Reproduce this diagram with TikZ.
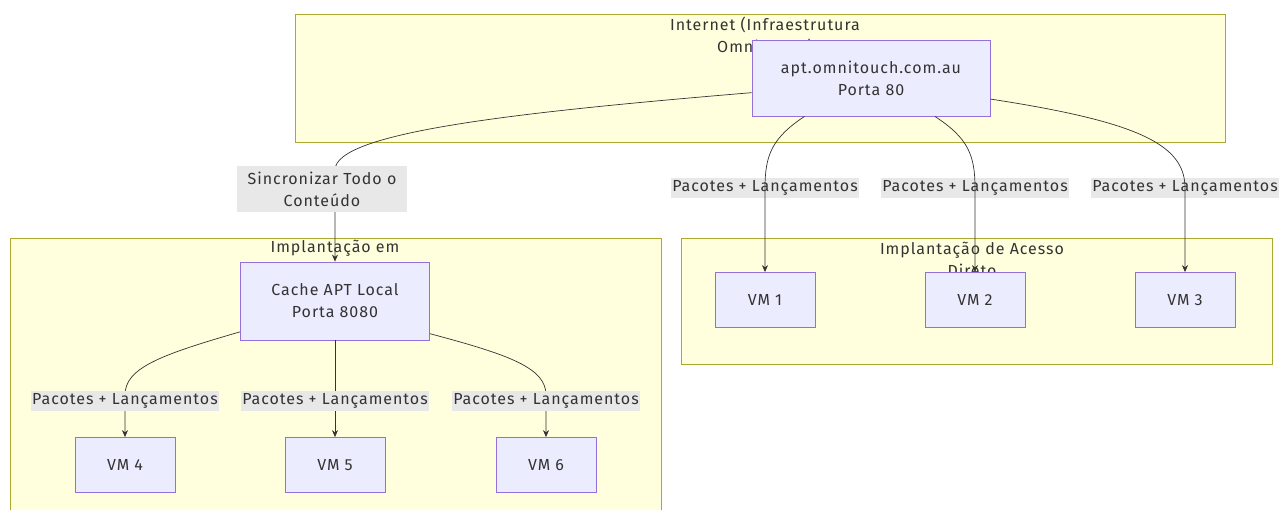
\documentclass[tikz,border=0pt]{standalone}
\usepackage{fontspec}
\setmainfont{Fira Sans}[LetterSpace=6]
\usepackage{xcolor}
\definecolor{txt}{HTML}{333333}
\definecolor{clfill}{HTML}{FFFFDE}
\definecolor{clline}{HTML}{AAAA33}
\definecolor{boxfill}{HTML}{ECECFF}
\definecolor{boxline}{HTML}{9370DB}
\definecolor{lblfill}{HTML}{E8E8E8}
\usepackage{tikz}
\usetikzlibrary{arrows.meta}

\begin{document}
\begin{tikzpicture}[
    x=1pt, y=-1pt,
    every node/.style={font=\fontsize{16}{22}\selectfont, text=txt},
    cluster/.style={draw=clline, fill=clfill, line width=0.8pt},
    title/.style={align=center, inner sep=0pt},
    box/.style={draw=boxline, fill=boxfill, line width=0.8pt, align=center, inner sep=0pt},
    vm/.style={box, minimum width=100pt, minimum height=55pt},
    elabel/.style={fill=lblfill, align=center, inner xsep=1pt, inner ysep=2.5pt},
    link/.style={draw=txt, line width=0.7pt, -{Stealth[length=7pt, width=6pt]}}
    ]
    \clip (0,0) rectangle (1282,509);

    % groups
    \draw[cluster] (295,14) rectangle (1225,142);
    \draw[cluster] (10,238) rectangle (661,520);
    \draw[cluster] (681,238) rectangle (1272,364);
    \node[title] (tnet) at (765,36) {Internet (Infraestrutura\\OmniTouch)};
    \node[title] (tcache) at (335,248) {Implantação em};
    \node[title] (tdirect) at (972,259) {Implantação de Acesso\\Direto};

    % servers
    \node[box, minimum width=238pt, minimum height=76pt] (apt) at (871,78)
        {apt.omnitouch.com.au\\Porta 80};
    \node[box, minimum width=189pt, minimum height=78pt] (cache) at (335,301)
        {Cache APT Local\\Porta 8080};

    % machines
    \node[vm] (vm1) at (765,300) {VM 1};
    \node[vm] (vm2) at (975,300) {VM 2};
    \node[vm] (vm3) at (1185,300) {VM 3};
    \node[vm] (vm4) at (125,465) {VM 4};
    \node[vm] (vm5) at (335,465) {VM 5};
    \node[vm] (vm6) at (546,465) {VM 6};

    % direct access
    \node[elabel] (l1) at (765,188) {Pacotes + Lançamentos};
    \node[elabel] (l2) at (975,188) {Pacotes + Lançamentos};
    \node[elabel] (l3) at (1185,188) {Pacotes + Lançamentos};
    \draw[link] (apt.210) .. controls (772,138) and (765,155) .. (vm1.north |- l1) -- (vm1.north);
    \draw[link] (apt.-31) .. controls (968,138) and (975,155) .. (vm2.north |- l2) -- (vm2.north);
    \draw[link] (apt.-10.5) .. controls (1140,122) and (1185,145) .. (vm3.north |- l3) -- (vm3.north);

    % sync
    \draw[link] (apt.187) .. controls (520,112) and (335,132) .. (cache.north |- 0,170)
        -- (cache.north);
    \node[elabel, minimum width=170pt, minimum height=46pt] (sync) at (322,189)
        {Sincronizar Todo o\\Conteúdo};

    % cached
    \draw[link] (cache.198.8) .. controls (160,355) and (125,368) .. (vm4.north |- 0,395) -- (vm4.north);
    \draw[link] (cache.south) -- (vm5.north);
    \draw[link] (cache.341.2) .. controls (510,355) and (546,368) .. (vm6.north |- 0,395) -- (vm6.north);
    \node[elabel] (l4) at (125,401) {Pacotes + Lançamentos};
    \node[elabel] (l5) at (335,401) {Pacotes + Lançamentos};
    \node[elabel] (l6) at (546,401) {Pacotes + Lançamentos};
\end{tikzpicture}
\end{document}
